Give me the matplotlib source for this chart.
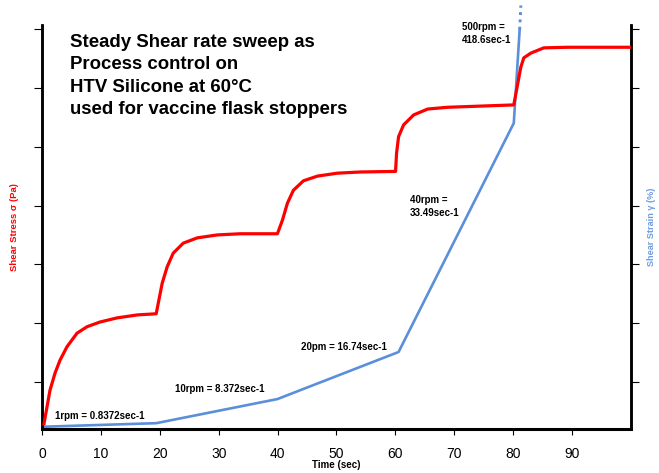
import matplotlib
matplotlib.use("Agg")
import matplotlib.pyplot as plt

plt.rcParams['font.family'] = ['Liberation Sans', 'DejaVu Sans']

# Time axis (sec) and shear stress trace (arbitrary units, unlabeled axis)
stress_time = [0.34, 1.36, 2.21, 3.06, 4.25, 5.95, 7.65, 9.86, 12.76, 16.16, 19.39,
               20.41, 21.26, 22.28, 23.98, 26.36, 29.76, 33.67, 39.97,
               40.82, 41.67, 42.69, 44.39, 46.77, 50.17, 54.08, 60.03,
               60.2, 60.54, 61.39, 63.1, 65.48, 68.88, 74.49, 80.1,
               81.29, 81.8, 82.99, 85.2, 89.29, 100.0]
stress = [0.29, 0.86, 1.15, 1.37, 1.60, 1.83, 1.94, 2.02, 2.09, 2.14, 2.16,
          2.68, 2.96, 3.19, 3.36, 3.45, 3.50, 3.52, 3.52,
          3.75, 4.04, 4.26, 4.42, 4.50, 4.55, 4.57, 4.58,
          4.89, 5.17, 5.37, 5.54, 5.64, 5.67, 5.69, 5.71,
          6.35, 6.51, 6.59, 6.68, 6.69, 6.69]

# Shear strain trace
strain_time = [0.34, 19.39, 39.97, 60.54, 80.1, 81.1]
strain = [0.24, 0.30, 0.71, 1.51, 5.40, 6.99]
# continuation beyond the top of the frame
strain_ext_time = [81.1, 81.3]
strain_ext = [6.99, 7.40]

time_ticks = [0, 10, 20, 30, 40, 50, 60, 70, 80, 90]
level_ticks = [1, 2, 3, 4, 5, 6, 7]

rate_notes = [
    (2.2, 0.42, "1rpm = 0.8372sec-1"),
    (22.6, 0.88, "10rpm = 8.372sec-1"),
    (43.9, 1.59, "20pm = 16.74sec-1"),
    (62.4, 3.98, "40rpm =\n33.49sec-1"),
    (71.3, 6.92, "500rpm =\n418.6sec-1"),
]

title_text = ("Steady Shear rate sweep as\nProcess control on\n"
              "HTV Silicone at 60\u00b0C\nused for vaccine flask stoppers")

red = "#ff0000"
blue = "#5b8fd9"

fig = plt.figure(figsize=(6.59, 4.73), dpi=100)
ax = fig.add_axes([0.0637, 0.0930, 0.8938, 0.8541])
ax2 = ax.twinx()

ax.plot(stress_time, stress, color=red, lw=2.3, solid_joinstyle='round', zorder=3)
ax2.plot(strain_time, strain, color=blue, lw=1.9, zorder=2)
ax2.plot(strain_ext_time, strain_ext, color=blue, lw=2.1, ls=(0, (1.0, 1.5)),
         clip_on=False)

for a in (ax, ax2):
    a.set_xlim(0, 100)
    a.set_ylim(0.201, 7.068)
    a.set_yticks(level_ticks)
    a.set_yticklabels([])
    a.spines['top'].set_visible(False)
    for s in a.spines.values():
        s.set_linewidth(1.8)

ax.set_zorder(ax2.get_zorder() + 1)
ax.patch.set_visible(False)

ax.set_xticks(time_ticks)
ax.tick_params(axis='x', direction='out', length=4, width=0.8, pad=9, labelsize=10)
ax.tick_params(axis='y', direction='out', length=6, width=0.8)
ax2.tick_params(axis='y', direction='out', length=6, width=0.8)
ax.spines['bottom'].set_linewidth(2.2)

ax.set_xlabel("Time (sec)", fontsize=7, fontweight='bold', labelpad=-1)
ax.set_ylabel("Shear Stress \u03c3 (Pa)", fontsize=6.8, fontweight='bold', color=red,
              labelpad=7)
ax2.set_ylabel("Shear Strain \u03b3 (%)", fontsize=6.6, fontweight='bold',
               color="#6d9de0", labelpad=2)

for x, y, txt in rate_notes:
    ax.text(x, y, txt, fontsize=7, fontweight='bold', ha='left', va='center',
            linespacing=1.35)

ax.text(0.0475, 0.978, title_text, transform=ax.transAxes, fontsize=13.4,
        fontweight='bold', ha='left', va='top', linespacing=1.42)

fig.savefig("out.png", dpi=100)
